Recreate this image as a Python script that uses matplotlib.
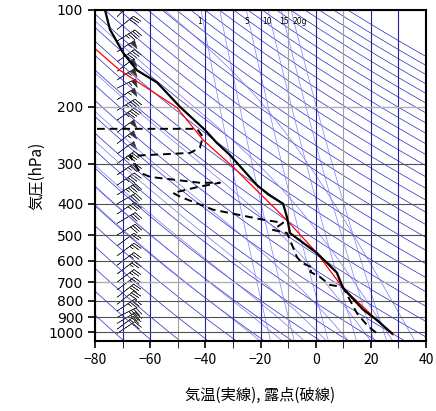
import numpy as np
import matplotlib
matplotlib.use('Agg')
import matplotlib.pyplot as plt

plt.rcParams['font.family'] = ['Noto Sans CJK JP', 'DejaVu Sans']

# temperature profile (solid)
temp_p = [100, 115, 136, 154, 168, 200, 236, 259, 282, 350, 375, 400, 440, 493, 569, 654, 730, 852, 918, 1010]
temp_t = [-76.4, -74.6, -69.8, -64.8, -57.5, -49.2, -40.1, -35.8, -31.1, -21.3, -17.0, -11.8, -10.4, -9.3, 0.5, 7.7, 9.9, 17.2, 22.2, 27.7]

# dew point profile (dashed)
dew_p = [234, 234, 248, 268, 278, 284, 320, 330, 344, 344, 355, 370, 380, 417, 448, 458, 482, 493, 518,
         585, 610, 632, 650, 675, 714, 725, 795, 875, 951, 1010]
dew_t = [-79.3, -43.0, -40.9, -42.0, -45.6, -67.3, -63.7, -60.0, -42.0, -34.7, -43.0, -51.7, -49.2, -37.2,
         -19.1, -11.8, -15.5, -10.4, -9.3, -6.8, -5.0, -1.0, -2.0, 1.6, 5.2, 9.9, 12.4, 15.0, 18.6, 22.2]

# lifted parcel (red)
parcel_p = [132, 154, 201, 253, 307, 450, 569, 730, 1020]
parcel_t = [-80.0, -71.0, -50.3, -40.9, -30.0, -10.4, 0.5, 9.9, 28.0]

# wind barbs (knots)
wind_p = [105, 115, 125, 135, 145, 155, 165, 175, 190, 205, 220, 240, 260, 280, 300, 325, 350, 375, 400,
          430, 460, 500, 540, 580, 620, 660, 700, 740, 780, 820, 860, 900, 940, 980, 1010]
wind_u = [15, 25, 40, 45, 35, 40, 45, 50, 45, 40, 35, 40, 45, 40, 35, 30, 35, 40, 35,
          30, 25, 25, 20, 20, 20, 20, 20, 20, 25, 25, 30, 30, 25, 20, 15]
wind_v = [15, 20, 25, 30, 25, 30, 30, 25, 30, 25, 25, 30, 35, 30, 25, 20, 25, 25, 20,
          20, 15, 15, 15, 15, 15, 15, 15, 15, 20, 20, 20, 15, 15, 15, 10]

mix_ratios = [1, 2, 5, 10, 15, 20]
label_text = ['1', '5', '10', '15', '20g']
label_t = [-42.0, -25.0, -17.6, -11.3, -5.8]


def sat_vap(t):
    return 6.112 * np.exp(17.67 * t / (t + 243.5))


def moist_adiabat(t0, p):
    # simple pseudo-adiabatic integration starting at the bottom pressure
    ts = [t0]
    for i in range(1, len(p)):
        t = ts[-1]
        tk = t + 273.15
        es = sat_vap(t)
        rs = 0.622 * es / (p[i - 1] - es)
        lv = 2.5e6
        num = 287.0 * tk + lv * rs
        den = 1004.0 + lv * lv * rs * 0.622 / (287.0 * tk * tk)
        dt = num / den / p[i - 1] * (p[i] - p[i - 1])
        ts.append(t + dt)
    return np.array(ts)


fig = plt.figure(figsize=(4.36, 4.11), dpi=100)
ax = fig.add_axes([0.218, 0.170, 0.759, 0.806])
ax.set_yscale('log')
ax.set_ylim(1067, 100)
ax.set_xlim(-80, 40)

p = np.logspace(np.log10(1067), 2, 200)

# dry adiabats
for theta in range(200, 560, 10):
    ax.plot(theta * (p / 1000) ** 0.286 - 273.15, p, color='#2828c8', lw=0.5)
# moist adiabats
for t0 in range(-20, 44, 8):
    ax.plot(moist_adiabat(t0, p), p, color='#7878f0', lw=0.5)
# mixing ratio lines
for w in mix_ratios:
    e = w * p / (622 + w)
    ln = np.log(e / 6.112)
    ax.plot(243.5 * ln / (17.67 - ln), p, color='#8080ff', lw=0.5)
for t, lab in zip(label_t, label_text):
    ax.text(t, 109, lab, fontsize=5.5, ha='center', va='center', family='DejaVu Sans')

# grid
for t in range(-80, 41, 10):
    c = '#a0a0a0' if t in (-50, -10, 10) else '#2020a0'
    ax.axvline(t, color=c, lw=0.8)
for pp in range(100, 1001, 100):
    c = '#b0b0b0' if pp in (200, 700) else '#505050'
    ax.axhline(pp, color=c, lw=1.0 if pp in (200, 700) else 0.8)

ax.plot(parcel_t, parcel_p, color='red', lw=0.9)
ax.plot(temp_t, temp_p, color='black', lw=1.6)
ax.plot(dew_t, dew_p, color='black', lw=1.4, ls=(0, (4, 2.5)))

ax.barbs(np.full(len(wind_p), -72), wind_p, -np.array(wind_u), -np.array(wind_v),
         length=5.5, lw=0.4, color='#303030')

ax.set_yticks(range(100, 1001, 100))
ax.set_yticklabels([str(v) for v in range(100, 1001, 100)], family='DejaVu Sans')
ax.yaxis.set_minor_locator(matplotlib.ticker.NullLocator())
ax.set_xticks(range(-80, 41, 20))
ax.set_xticks(range(-80, 41, 10), minor=True)
ax.tick_params(axis='both', direction='out', labelsize=10, width=1.2, length=5)
ax.tick_params(axis='x', which='minor', direction='out', length=5)
for s in ax.spines.values():
    s.set_linewidth(1.5)

ax.set_ylabel('気圧(hPa)', fontsize=11, labelpad=2)
ax.set_xlabel('気温(実線), 露点(破線)', fontsize=11, labelpad=14)

fig.savefig('out.png', dpi=100)
